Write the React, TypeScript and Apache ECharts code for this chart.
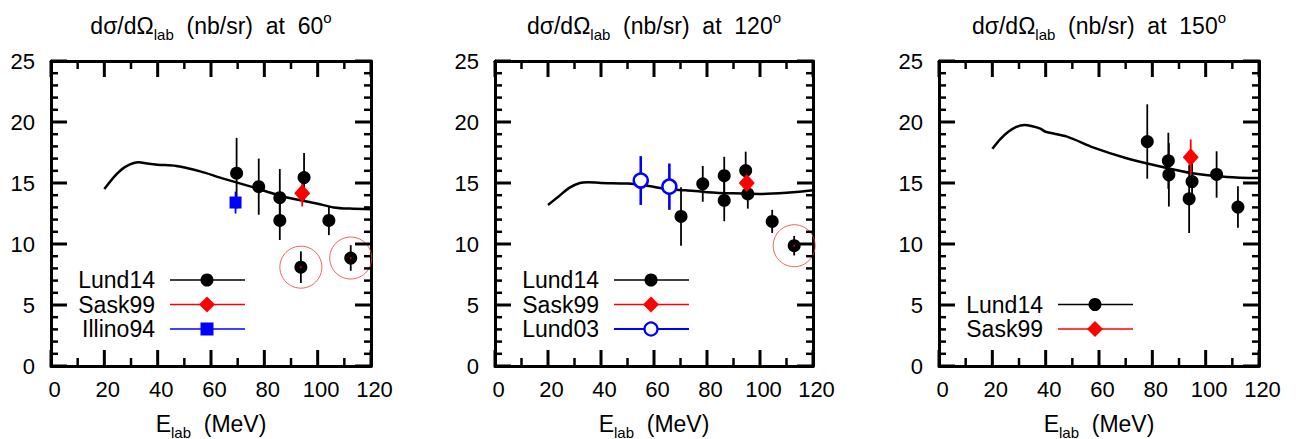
import React, { useEffect, useRef } from "react";
import * as echarts from "echarts";

// ---------- data ----------
const xTicks = [0, 20, 40, 60, 80, 100, 120];
const yTicks = [0, 5, 10, 15, 20, 25];
const xMinorPerMajor = 2;
const yMinorPerMajor = 5;
const angles = ["60", "120", "150"];

// theory curves [E_lab, dσ/dΩ]
const theory60 = [
  [20, 14.5], [24.5, 15.7], [28, 16.35], [33, 16.7], [36, 16.6], [40, 16.5], [47, 16.4],
  [56, 15.95], [64, 15.4], [75, 14.7], [87, 13.9], [100, 13.3], [106, 13.0], [112, 12.9], [120, 12.85],
];
const theory120 = [
  [20, 13.2], [24, 13.9], [28, 14.6], [32, 15.0], [35, 15.07], [40, 15.0], [50, 14.95], [58, 14.75],
  [65, 14.5], [72, 14.4], [80, 14.25], [90, 14.15], [100, 14.1], [110, 14.2], [120, 14.4],
];
const theory150 = [
  [20, 17.8], [23, 18.6], [26, 19.2], [29, 19.6], [32, 19.75], [35, 19.65], [38, 19.45], [40, 19.2],
  [48, 18.8], [58, 17.9], [70, 17.05], [83, 16.35], [95, 15.8], [108, 15.5], [120, 15.4],
];

// measurements [E_lab, value, error]
const lund14_60 = [
  [69.6, 15.8, 2.9], [77.9, 14.7, 2.3], [85.8, 13.8, 2.35], [85.8, 11.93, 1.6],
  [94.9, 15.45, 2.0], [104.2, 11.93, 1.2], [93.7, 8.1, 1.3], [112.4, 8.85, 1.05],
];
const sask99_60 = [[94.2, 14.17, 1.1]];
const illino94_60 = [[69.2, 13.4, 0.9]];
const circled60 = [6, 7];

const lund14_120 = [
  [70.2, 12.26, 2.4], [78.4, 14.93, 1.47], [86.5, 15.6, 1.55], [86.5, 13.57, 1.7],
  [94.6, 16.02, 1.55], [95.4, 14.1, 1.2], [104.6, 11.85, 0.95], [112.9, 9.86, 0.8],
];
const sask99_120 = [[95.0, 15.0, 1.2]];
const lund03_120 = [[55.0, 15.2, 2.0], [65.8, 14.7, 1.9]];
const circled120 = [7];

const lund14_150 = [
  [78.1, 18.4, 3.05], [86.0, 16.82, 2.3], [86.2, 15.67, 2.6], [94.9, 15.12, 1.5],
  [93.8, 13.7, 2.8], [104.1, 15.7, 1.9], [112.1, 13.03, 1.7],
];
const sask99_150 = [[94.4, 17.12, 1.45]];
const circled150: number[] = [];

// ---------- styles ----------
const FONT = '"Liberation Sans", Arial, Helvetica, sans-serif';
const BLACK = "#000000";
const RED = "#ff0000";
const BLUE = "#0000ff";

type DS = {
  name: string;
  data: number[][];
  color: string;
  symbol: string;
  size: number | number[];
  barWidth: number;
  legendLine: number;
};

const panels = [
  {
    theory: theory60,
    circled: circled60,
    sets: [
      { name: "Lund14", data: lund14_60, color: BLACK, symbol: "circle", size: 13, barWidth: 1.8, legendLine: 1.5 },
      { name: "Sask99", data: sask99_60, color: RED, symbol: "diamond", size: [16, 18], barWidth: 1.8, legendLine: 1.5 },
      { name: "Illino94", data: illino94_60, color: BLUE, symbol: "rect", size: 12, barWidth: 1.8, legendLine: 1.5 },
    ] as DS[],
  },
  {
    theory: theory120,
    circled: circled120,
    sets: [
      { name: "Lund14", data: lund14_120, color: BLACK, symbol: "circle", size: 13, barWidth: 1.8, legendLine: 1.5 },
      { name: "Sask99", data: sask99_120, color: RED, symbol: "diamond", size: [16, 18], barWidth: 1.8, legendLine: 1.5 },
      { name: "Lund03", data: lund03_120, color: BLUE, symbol: "openCircle", size: 14, barWidth: 2.6, legendLine: 2.2 },
    ] as DS[],
  },
  {
    theory: theory150,
    circled: circled150,
    sets: [
      { name: "Lund14", data: lund14_150, color: BLACK, symbol: "circle", size: 13, barWidth: 1.8, legendLine: 1.5 },
      { name: "Sask99", data: sask99_150, color: RED, symbol: "diamond", size: [16, 18], barWidth: 1.8, legendLine: 1.5 },
    ] as DS[],
  },
];

const gridLefts = [51, 495, 939];
const gridWidths = [320, 318, 320];
const gridTop = 61;
const gridHeight = 305;

const xMin = xTicks[0];
const xMax = xTicks[xTicks.length - 1];
const yMin = yTicks[0];
const yMax = yTicks[yTicks.length - 1];

function richTitle() {
  return {
    m: { fontSize: 23, fontFamily: FONT, color: BLACK, lineHeight: 32, verticalAlign: "middle" },
    s: { fontSize: 15, fontFamily: FONT, color: BLACK, lineHeight: 15, verticalAlign: "bottom" },
    p: { fontSize: 15, fontFamily: FONT, color: BLACK, lineHeight: 25, verticalAlign: "top" },
  };
}

function xAxisCfg(i: number, top: boolean) {
  const cfg: any = {
    type: "value",
    gridIndex: i,
    position: top ? "top" : "bottom",
    min: xMin,
    max: xMax,
    interval: xTicks[1] - xTicks[0],
    axisLine: { show: true, onZero: false, lineStyle: { color: BLACK, width: 3 } },
    axisTick: { show: false },
    minorTick: { show: false },
    splitLine: { show: false },
    nameLocation: "middle",
    nameTextStyle: { rich: richTitle() },
  };
  if (top) {
    cfg.axisLabel = { show: false };
    cfg.name = `{m|dσ/dΩ}{s|lab}{m|  (nb/sr)  at  ${angles[i]}}{p|o}`;
    cfg.nameGap = 19;
  } else {
    cfg.axisLabel = { show: true, color: BLACK, fontSize: 22, fontFamily: FONT, margin: 12, padding: [0, 0, 0, 7] };
    cfg.name = "{m|E}{s|lab}{m|  (MeV)}";
    cfg.nameGap = 42;
  }
  return cfg;
}

function yAxisCfg(i: number, right: boolean) {
  return {
    type: "value",
    gridIndex: i,
    position: right ? "right" : "left",
    min: yMin,
    max: yMax,
    interval: yTicks[1] - yTicks[0],
    axisLine: { show: true, onZero: false, lineStyle: { color: BLACK, width: 3 } },
    axisTick: { show: false },
    minorTick: { show: false },
    splitLine: { show: false },
    axisLabel: right
      ? { show: false }
      : { show: true, color: BLACK, fontSize: 22, fontFamily: FONT, margin: 16 },
  };
}

function legendGraphics() {
  const graphic: any[] = [];
  panels.forEach((p, i) => {
    const left = gridLefts[i];
    const n = p.sets.length;
    const lastRowY = 329;
    const rowGap = 24.5;
    p.sets.forEach((s, k) => {
      const y = lastRowY - (n - 1 - k) * rowGap;
      const cx = left + 156;
      graphic.push({
        type: "text",
        x: left + 104,
        y: y,
        z: 100,
        style: { text: s.name, font: `23px ${FONT}`, fill: BLACK, align: "right", verticalAlign: "middle" },
      });
      graphic.push({
        type: "line",
        z: 100,
        shape: { x1: left + 119, y1: y, x2: left + 194, y2: y },
        style: { stroke: s.color, lineWidth: s.legendLine },
      });
      if (s.symbol === "circle") {
        graphic.push({ type: "circle", z: 101, shape: { cx, cy: y, r: 6.5 }, style: { fill: s.color } });
      } else if (s.symbol === "diamond") {
        graphic.push({
          type: "polygon",
          z: 101,
          shape: { points: [[cx, y - 8], [cx + 8, y], [cx, y + 8], [cx - 8, y]] },
          style: { fill: s.color },
        });
      } else if (s.symbol === "rect") {
        graphic.push({ type: "rect", z: 101, shape: { x: cx - 6.5, y: y - 6.5, width: 13, height: 13 }, style: { fill: s.color } });
      } else {
        graphic.push({
          type: "circle",
          z: 101,
          shape: { cx, cy: y, r: 6.5 },
          style: { fill: "#ffffff", stroke: s.color, lineWidth: 2.2 },
        });
      }
    });
  });
  return graphic;
}

// tick marks on all four sides, positioned through the grids' own scales (convertToPixel)
function tickGraphics(chart: echarts.ECharts) {
  const out: any[] = [];
  const xVals: [number, boolean][] = [];
  for (let k = 0; k < xTicks.length; k++) {
    xVals.push([xTicks[k], true]);
    if (k < xTicks.length - 1) {
      const step = (xTicks[k + 1] - xTicks[k]) / xMinorPerMajor;
      for (let m = 1; m < xMinorPerMajor; m++) xVals.push([xTicks[k] + m * step, false]);
    }
  }
  const yVals: [number, boolean][] = [];
  for (let k = 0; k < yTicks.length; k++) {
    yVals.push([yTicks[k], true]);
    if (k < yTicks.length - 1) {
      const step = (yTicks[k + 1] - yTicks[k]) / yMinorPerMajor;
      for (let m = 1; m < yMinorPerMajor; m++) yVals.push([yTicks[k] + m * step, false]);
    }
  }
  panels.forEach((_, i) => {
    const finder = { gridIndex: i };
    xVals.forEach(([v, major]) => {
      const b = chart.convertToPixel(finder as any, [v, yMin]) as any;
      const t = chart.convertToPixel(finder as any, [v, yMax]) as any;
      if (!b || !t) return;
      const len = major ? 16 : 8;
      const w = major ? 3 : 2.5;
      out.push({ type: "line", z: 50, silent: true, shape: { x1: b[0], y1: b[1], x2: b[0], y2: b[1] - len }, style: { stroke: BLACK, lineWidth: w } });
      out.push({ type: "line", z: 50, silent: true, shape: { x1: t[0], y1: t[1], x2: t[0], y2: t[1] + len }, style: { stroke: BLACK, lineWidth: w } });
    });
    yVals.forEach(([v, major]) => {
      const l = chart.convertToPixel(finder as any, [xMin, v]) as any;
      const r = chart.convertToPixel(finder as any, [xMax, v]) as any;
      if (!l || !r) return;
      const len = major ? 16 : 7;
      const w = major ? 3 : 2.5;
      out.push({ type: "line", z: 50, silent: true, shape: { x1: l[0], y1: l[1], x2: l[0] + len, y2: l[1] }, style: { stroke: BLACK, lineWidth: w } });
      out.push({ type: "line", z: 50, silent: true, shape: { x1: r[0], y1: r[1], x2: r[0] - len, y2: r[1] }, style: { stroke: BLACK, lineWidth: w } });
    });
  });
  return out;
}

function buildOption() {
  const grid: any[] = [];
  const xAxis: any[] = [];
  const yAxis: any[] = [];
  const series: any[] = [];

  panels.forEach((p, i) => {
    grid.push({
      left: gridLefts[i],
      top: gridTop,
      width: gridWidths[i],
      height: gridHeight,
      containLabel: false,
      outerBoundsMode: "none",
    });
    xAxis.push(xAxisCfg(i, false), xAxisCfg(i, true));
    yAxis.push(yAxisCfg(i, false), yAxisCfg(i, true));

    const xi = 2 * i;
    const yi = 2 * i;

    series.push({
      type: "line",
      name: "theory",
      xAxisIndex: xi,
      yAxisIndex: yi,
      data: p.theory,
      smooth: 0.3,
      showSymbol: false,
      symbol: "none",
      lineStyle: { color: BLACK, width: 2.5 },
      z: 2,
      silent: true,
    });

    p.sets.forEach((s) => {
      series.push({
        type: "custom",
        name: s.name + " err",
        xAxisIndex: xi,
        yAxisIndex: yi,
        data: s.data.map((d) => [d[0], d[1] - d[2], d[1] + d[2]]),
        encode: { x: 0, y: [1, 2] },
        renderItem: (params: any, api: any) => {
          const a = api.coord([api.value(0), api.value(1)]);
          const b = api.coord([api.value(0), api.value(2)]);
          return {
            type: "line",
            shape: { x1: a[0], y1: a[1], x2: b[0], y2: b[1] },
            style: { stroke: s.color, lineWidth: s.barWidth },
          };
        },
        z: 3,
        silent: true,
      });
      const open = s.symbol === "openCircle";
      series.push({
        type: "scatter",
        name: s.name,
        xAxisIndex: xi,
        yAxisIndex: yi,
        data: s.data.map((d) => [d[0], d[1]]),
        symbol: open ? "circle" : s.symbol,
        symbolSize: s.size,
        itemStyle: open
          ? { color: "#ffffff", borderColor: s.color, borderWidth: 2.5, opacity: 1 }
          : { color: s.color, opacity: 1 },
        z: 4,
        silent: true,
      });
    });

    if (p.circled.length) {
      const lund = p.sets[0].data;
      const pts = p.circled.map((k) => [lund[k][0], lund[k][1]]);
      series.push({
        type: "scatter",
        name: "circled",
        xAxisIndex: xi,
        yAxisIndex: yi,
        data: pts,
        symbol: "circle",
        symbolSize: 42,
        itemStyle: { color: "rgba(0,0,0,0)", borderColor: "#f03a3a", borderWidth: 1 },
        z: 5,
        silent: true,
      });
      series.push({
        type: "scatter",
        name: "circled dot",
        xAxisIndex: xi,
        yAxisIndex: yi,
        data: pts.map((q) => [q[0], q[1]]),
        symbol: "circle",
        symbolSize: 2,
        itemStyle: { color: RED },
        z: 6,
        silent: true,
      });
    }
  });

  return {
    animation: false,
    backgroundColor: "#ffffff",
    grid,
    xAxis,
    yAxis,
    series,
    graphic: legendGraphics(),
  };
}

export default function App() {
  const ref = useRef<HTMLDivElement>(null);
  useEffect(() => {
    if (!ref.current) return;
    const chart = echarts.init(ref.current, undefined, { renderer: "svg" });
    chart.setOption(buildOption() as any);
    const ticks = tickGraphics(chart);
    chart.setOption({ graphic: [...legendGraphics(), ...ticks] } as any, { replaceMerge: ["graphic"] } as any);
    return () => chart.dispose();
  }, []);
  return (
    <div
      ref={ref}
      style={{ position: "absolute", left: 0, top: 0, width: 1296, height: 439, background: "#fff" }}
    />
  );
}
